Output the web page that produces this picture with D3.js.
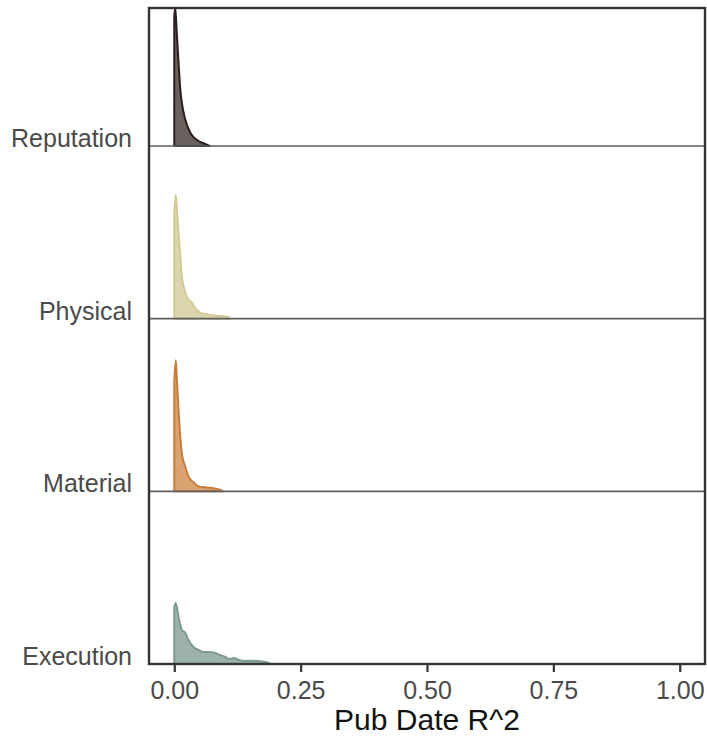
<!DOCTYPE html>
<html>
<head>
<meta charset="utf-8">
<script src="https://cdn.jsdelivr.net/npm/d3@7"></script>
<style>
  html, body { margin: 0; padding: 0; background: #fff; }
  svg { display: block; }
</style>
</head>
<body>
<script>
// ---- data ----
const categories = ["Reputation", "Physical", "Material", "Execution"];
const xTicks = [0, 0.25, 0.5, 0.75, 1.0];
// density curves: [x, density]
const reputationDensity = [[0, 65], [0.002, 69], [0.005, 56.5], [0.009, 39.5], [0.012, 28], [0.015, 21.5], [0.022, 13], [0.032, 6.5], [0.045, 3], [0.061, 1], [0.070, 0]];
const physicalDensity = [[0, 52], [0.003, 62], [0.005, 56], [0.008, 44.5], [0.012, 31], [0.015, 21], [0.022, 13], [0.028, 9.5], [0.035, 8], [0.041, 5.5], [0.051, 3], [0.068, 2], [0.084, 1.5], [0.107, 0.8], [0.110, 0]];
const materialDensity = [[0, 55], [0.003, 65.5], [0.005, 57], [0.0085, 40.5], [0.012, 27], [0.015, 19], [0.022, 12], [0.028, 7.5], [0.038, 4.5], [0.048, 2.5], [0.061, 2], [0.078, 1.5], [0.094, 0.5], [0.096, 0]];
const executionDensity = [[0, 28.5], [0.003, 30.5], [0.0085, 23.5], [0.015, 17], [0.022, 15.5], [0.028, 12], [0.038, 8.5], [0.048, 7], [0.058, 6], [0.071, 6], [0.081, 5.5], [0.091, 4.5], [0.101, 3.5], [0.108, 2.5], [0.118, 3], [0.128, 2], [0.140, 1.5], [0.150, 1.65], [0.170, 1.35], [0.184, 0.85], [0.19, 0]];
const densities = [reputationDensity, physicalDensity, materialDensity, executionDensity];
const fills = ["#6a615e", "#dcd6ae", "#daa472", "#9cb2aa"];
const strokes = ["#2a1f1d", "#d2ca95", "#c87d3a", "#7f998f"];

// ---- layout ----
const W = 707, H = 738;
const mLeft = 149, mRight = 705, mTop = 8, mBottom = 664;

const svg = d3.select("body").append("svg").attr("width", W).attr("height", H);

const x = d3.scaleLinear().domain([-0.05, 1.05]).range([mLeft, mRight]);
const yBase = d3.scalePoint().domain(categories).range([146, mBottom]);
const h = d3.scaleLinear().domain([0, 70]).range([0, 140]);

svg.append("defs").append("clipPath").attr("id", "clip")
  .append("rect").attr("x", mLeft).attr("y", mTop).attr("width", mRight - mLeft).attr("height", mBottom - mTop);

const g = svg.append("g").attr("clip-path", "url(#clip)");

categories.forEach((c, i) => {
  const base = yBase(c);
  const area = d3.area()
    .x(d => x(d[0]))
    .y0(base)
    .y1(d => base - h(d[1]))
    .curve(d3.curveMonotoneX);
  g.append("path")
    .datum(densities[i])
    .attr("d", area)
    .attr("fill", fills[i])
    .attr("stroke", strokes[i])
    .attr("stroke-width", 2)
    .attr("stroke-linejoin", "round");
  g.append("line")
    .attr("x1", mLeft).attr("x2", mRight)
    .attr("y1", base).attr("y2", base)
    .attr("stroke", "#5e5e5e").attr("stroke-width", 1.6);
});

// category labels
svg.selectAll("text.cat").data(categories).enter().append("text")
  .attr("class", "cat")
  .attr("x", 132)
  .attr("y", d => yBase(d) + 1)
  .attr("text-anchor", "end")
  .attr("font-family", "Liberation Sans, Arial, sans-serif")
  .attr("font-size", 25)
  .attr("fill", "#4a4a4a")
  .text(d => d);

// frame
svg.append("rect")
  .attr("x", mLeft).attr("y", mTop).attr("width", mRight - mLeft).attr("height", mBottom - mTop)
  .attr("fill", "none").attr("stroke", "#333").attr("stroke-width", 2.4);

// x axis
const xAxis = d3.axisBottom(x).tickValues(xTicks).tickFormat(d3.format(".2f")).tickSize(7).tickPadding(9);
const ax = svg.append("g").attr("transform", `translate(0,${mBottom + 1})`).call(xAxis);
ax.select(".domain").remove();
ax.selectAll(".tick line").attr("stroke", "#333").attr("stroke-width", 2.2);
ax.selectAll(".tick text")
  .attr("font-family", "Liberation Sans, Arial, sans-serif")
  .attr("font-size", 25)
  .attr("fill", "#4a4a4a");

svg.append("text")
  .attr("x", x(0.5)).attr("y", 730)
  .attr("text-anchor", "middle")
  .attr("font-family", "Liberation Sans, Arial, sans-serif")
  .attr("font-size", 30)
  .attr("fill", "#111")
  .text("Pub Date R^2");
</script>
</body>
</html>
